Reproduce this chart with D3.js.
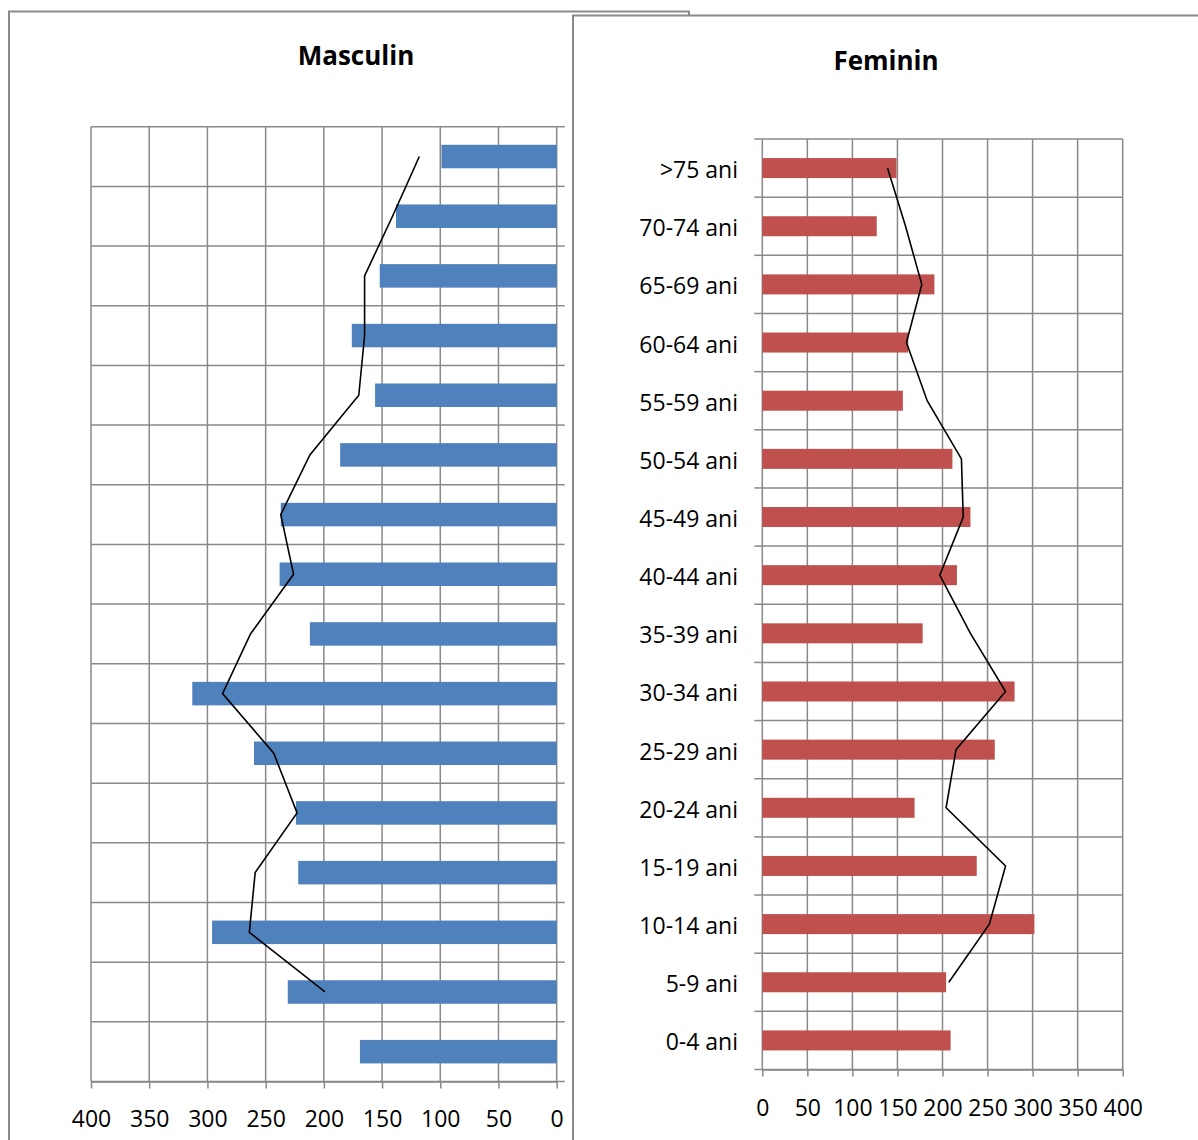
<!DOCTYPE html>
<html>
<head>
<meta charset="utf-8">
<script src="https://cdn.jsdelivr.net/npm/d3@7"></script>
<style>
  html, body { margin: 0; padding: 0; background: #fff; }
  svg { display: block; }
  text { font-family: "Open Sans", "Liberation Sans", sans-serif; fill: #000; }
</style>
</head>
<body>
<svg id="chart" width="1198" height="1140"></svg>
<script>
// ---- data ----
const categories = [">75 ani","70-74 ani","65-69 ani","60-64 ani","55-59 ani","50-54 ani","45-49 ani","40-44 ani",
                    "35-39 ani","30-34 ani","25-29 ani","20-24 ani","15-19 ani","10-14 ani","5-9 ani","0-4 ani"];
const maleBars   = [99,138,152,176,156,186,237,238,212,313,260,224,222,296,231,169];
const maleLine   = [118,141,165,165,170,212,237,226,263,287,243,223,259,264,199,null];
const femaleBars = [149,127,191,162,156,211,231,216,178,280,258,169,238,302,204,209];
const femaleLine = [139,159,177,160,183,221,223,197,231,270,215,204,270,252,207,null];
const xTicks = [0,50,100,150,200,250,300,350,400];
const titles = ["Masculin","Feminin"];

const svg = d3.select("#chart");
const gridColor = "#898989";
const boxColor = "#8a8a8a";

// ---- panel frames ----
svg.append("rect").attr("x", 9).attr("y", 11.5).attr("width", 680).attr("height", 1160)
  .attr("fill", "#fff").attr("stroke", boxColor).attr("stroke-width", 2);
const leftG = svg.append("g");
svg.append("rect").attr("x", 573).attr("y", 15.5).attr("width", 640).attr("height", 1160)
  .attr("fill", "#fff").attr("stroke", boxColor).attr("stroke-width", 2);
const rightG = svg.append("g");

function drawPanel(g, opts) {
  const { x, y, bars, line, color, barH, catSide, labelBaseline, showCats } = opts;
  const [y0, y1] = y.range();
  const [xa, xb] = x.range();
  const xMin = Math.min(xa, xb), xMax = Math.max(xa, xb);

  // vertical gridlines
  g.append("g").selectAll("line").data(xTicks).join("line")
    .attr("x1", d => x(d)).attr("x2", d => x(d))
    .attr("y1", y0).attr("y2", y1)
    .attr("stroke", gridColor).attr("stroke-width", 1.5);

  // horizontal gridlines (band boundaries) with outer tick extension on category side
  const bounds = categories.map(c => y(c)).concat([y1]);
  const catX = x(0);
  const ext = catSide === "right" ? 8 : -8;
  g.append("g").selectAll("line").data(bounds).join("line")
    .attr("x1", xMin).attr("x2", xMax).attr("y1", d => d).attr("y2", d => d)
    .attr("stroke", gridColor).attr("stroke-width", 1.5);
  g.append("g").selectAll("line").data(bounds).join("line")
    .attr("x1", catX).attr("x2", catX + ext).attr("y1", d => d).attr("y2", d => d)
    .attr("stroke", gridColor).attr("stroke-width", 1.5);

  // bottom value axis
  const axis = d3.axisBottom(x).tickValues(xTicks).tickSize(7).tickSizeOuter(0).tickPadding(0);
  const ax = g.append("g").attr("transform", `translate(0,${y1})`).call(axis);
  ax.select(".domain").attr("stroke", gridColor).attr("stroke-width", 1.5);
  ax.selectAll(".tick line").attr("stroke", gridColor).attr("stroke-width", 1.5);
  ax.selectAll(".tick text")
    .attr("y", labelBaseline - y1).attr("dy", null)
    .style("font-family", '"Open Sans", sans-serif').style("font-size", "23px").attr("fill", "#000");

  // bars
  g.append("g").selectAll("rect").data(categories).join("rect")
    .attr("x", (d, i) => Math.min(x(0), x(bars[i])))
    .attr("width", (d, i) => Math.abs(x(bars[i]) - x(0)))
    .attr("y", d => y(d) + (y.bandwidth() - barH) / 2)
    .attr("height", barH)
    .attr("fill", color);

  // trend line
  const pts = categories.map((c, i) => ({ c, v: line[i] }));
  g.append("path").datum(pts)
    .attr("d", d3.line().defined(d => d.v != null)
      .x(d => x(d.v)).y(d => y(d.c) + y.bandwidth() / 2))
    .attr("fill", "none").attr("stroke", "#000").attr("stroke-width", 1.6);

  // category labels
  if (showCats) {
    g.append("g").selectAll("text").data(categories).join("text")
      .attr("x", 738).attr("y", d => y(d) + y.bandwidth() / 2 + 10)
      .attr("text-anchor", "end").style("font-size", "23px")
      .text(d => d);
  }
}

// ---- left panel: Masculin (reversed axis) ----
const xL = d3.scaleLinear().domain([0, 400]).range([556.7, 91]);
const yL = d3.scaleBand().domain(categories).range([126.7, 1081.5]);
drawPanel(leftG, { x: xL, y: yL, bars: maleBars, line: maleLine, color: "#4F81BD",
  barH: 23.5, catSide: "right", labelBaseline: 1126.5, showCats: false });
leftG.append("text").attr("x", 356).attr("y", 65).attr("text-anchor", "middle")
  .style("font-size", "26px").style("font-weight", "bold").text(titles[0]);

// ---- right panel: Feminin ----
const xR = d3.scaleLinear().domain([0, 400]).range([762.3, 1122.7]);
const yR = d3.scaleBand().domain(categories).range([139, 1069.5]);
drawPanel(rightG, { x: xR, y: yR, bars: femaleBars, line: femaleLine, color: "#C0504D",
  barH: 20, catSide: "left", labelBaseline: 1116, showCats: true });
rightG.append("text").attr("x", 886).attr("y", 70).attr("text-anchor", "middle")
  .style("font-size", "26px").style("font-weight", "bold").text(titles[1]);
</script>
</body>
</html>
